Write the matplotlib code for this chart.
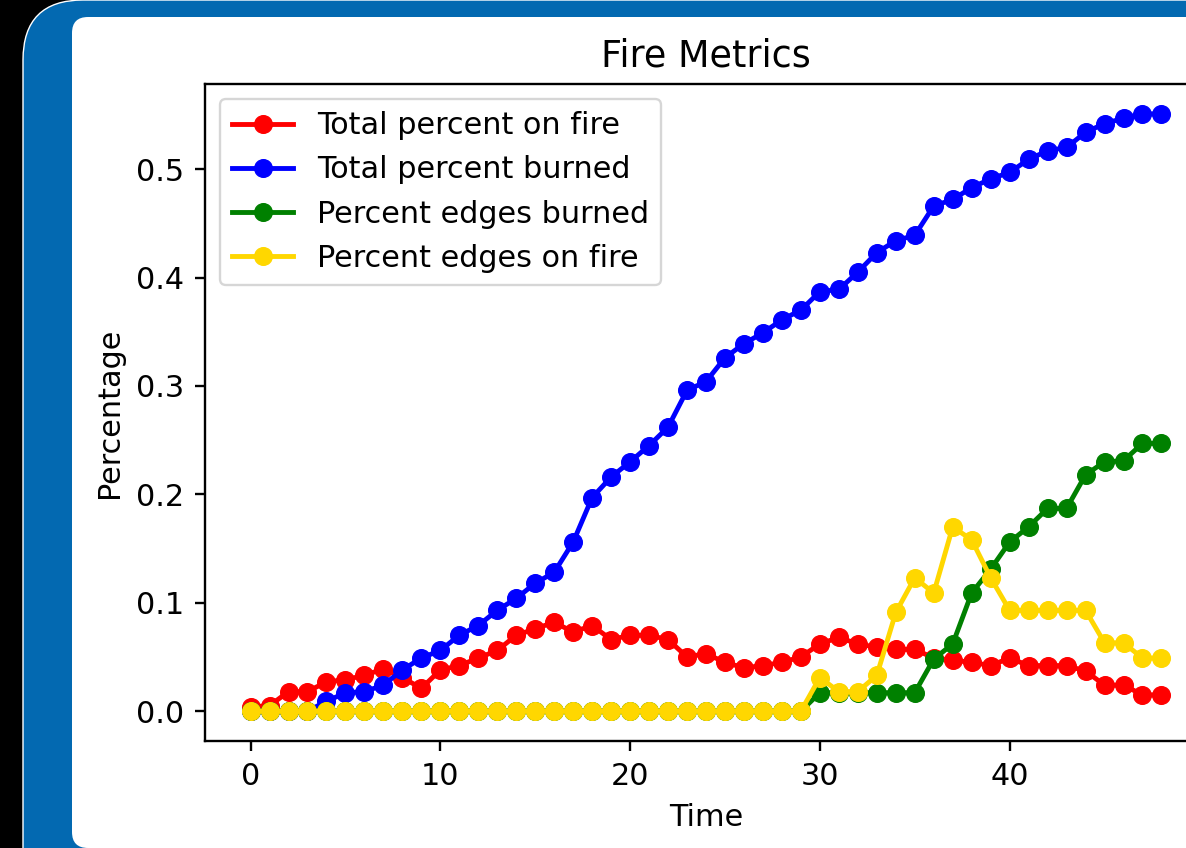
import matplotlib
matplotlib.use("Agg")
import matplotlib.pyplot as plt
from matplotlib.patches import FancyBboxPatch
from matplotlib.transforms import IdentityTransform

# values, one per time step 0..48
time = list(range(49))
on_fire = [0.004, 0.005, 0.018, 0.018, 0.027, 0.029, 0.033, 0.039, 0.031, 0.021,
           0.038, 0.042, 0.049, 0.056, 0.070, 0.076, 0.082, 0.073, 0.079, 0.066,
           0.070, 0.070, 0.066, 0.050, 0.053, 0.045, 0.040, 0.042, 0.045, 0.050,
           0.062, 0.068, 0.062, 0.059, 0.057, 0.057, 0.049, 0.047, 0.045, 0.042,
           0.049, 0.042, 0.042, 0.042, 0.037, 0.024, 0.024, 0.015, 0.015]
burned = [0.0, 0.0, 0.0, 0.0, 0.009, 0.017, 0.018, 0.024, 0.038, 0.049,
          0.056, 0.070, 0.079, 0.093, 0.104, 0.118, 0.128, 0.156, 0.197, 0.216,
          0.230, 0.245, 0.262, 0.296, 0.304, 0.326, 0.339, 0.349, 0.361, 0.370,
          0.387, 0.389, 0.405, 0.423, 0.434, 0.439, 0.466, 0.472, 0.483, 0.491,
          0.497, 0.509, 0.517, 0.520, 0.534, 0.542, 0.547, 0.551, 0.551]
edges_burned = [0.0] * 30 + [0.017, 0.017, 0.017, 0.017, 0.017, 0.017, 0.048, 0.062,
                             0.109, 0.131, 0.156, 0.170, 0.187, 0.187, 0.218, 0.230,
                             0.231, 0.247, 0.247]
edges_on_fire = [0.0] * 30 + [0.031, 0.018, 0.018, 0.033, 0.091, 0.123, 0.109, 0.170,
                              0.158, 0.123, 0.093, 0.093, 0.093, 0.093, 0.093, 0.063,
                              0.063, 0.049, 0.049]
x_ticks = [0, 10, 20, 30, 40]

plt.rcParams['font.family'] = ['DejaVu Sans']
plt.rcParams['font.size'] = 21.8
plt.rcParams['axes.titlesize'] = 26.3
plt.rcParams['axes.linewidth'] = 1.7
plt.rcParams['xtick.major.size'] = 7.4
plt.rcParams['ytick.major.size'] = 7.4
plt.rcParams['xtick.major.width'] = 1.7
plt.rcParams['ytick.major.width'] = 1.7
plt.rcParams['xtick.major.pad'] = 7.6
plt.rcParams['ytick.major.pad'] = 7.4
plt.rcParams['axes.labelpad'] = 9.0
plt.rcParams['axes.titlepad'] = 12.7
plt.rcParams['lines.linewidth'] = 3.5
plt.rcParams['lines.markersize'] = 12.7
plt.rcParams['legend.framealpha'] = 0.8
plt.rcParams['patch.linewidth'] = 1.7

fig = plt.figure(figsize=(11.86, 8.48), dpi=100)
fig.patch.set_facecolor('black')

# screenshot frame: blue rounded border and white panel (pixel coords), kept behind the axes
blue = FancyBboxPatch((23, -200), 1400, 1048, boxstyle="round,pad=0,rounding_size=60",
                      transform=IdentityTransform(), facecolor='#0369b1',
                      edgecolor='white', linewidth=1.0, zorder=-20)
fig.add_artist(blue)
panel = FancyBboxPatch((72, 0), 1400, 831, boxstyle="round,pad=0,rounding_size=16",
                       transform=IdentityTransform(), facecolor='white', edgecolor='none',
                       zorder=-10)
fig.add_artist(panel)

ax = fig.add_axes([205 / 1186, 107 / 848, 1002 / 1186, 657 / 848])
ax.plot(time, on_fire, marker='o', color='red', label='Total percent on fire')
ax.plot(time, burned, marker='o', color='blue', label='Total percent burned')
ax.plot(time, edges_burned, marker='o', color='green', label='Percent edges burned')
ax.plot(time, edges_on_fire, marker='o', color='gold', label='Percent edges on fire')
ax.set_xticks(x_ticks)

ax.set_title('Fire Metrics')
ax.set_xlabel('Time')
ax.set_ylabel('Percentage')
ax.legend(loc='upper left')

fig.savefig('out.png', dpi=100, facecolor=fig.get_facecolor())
